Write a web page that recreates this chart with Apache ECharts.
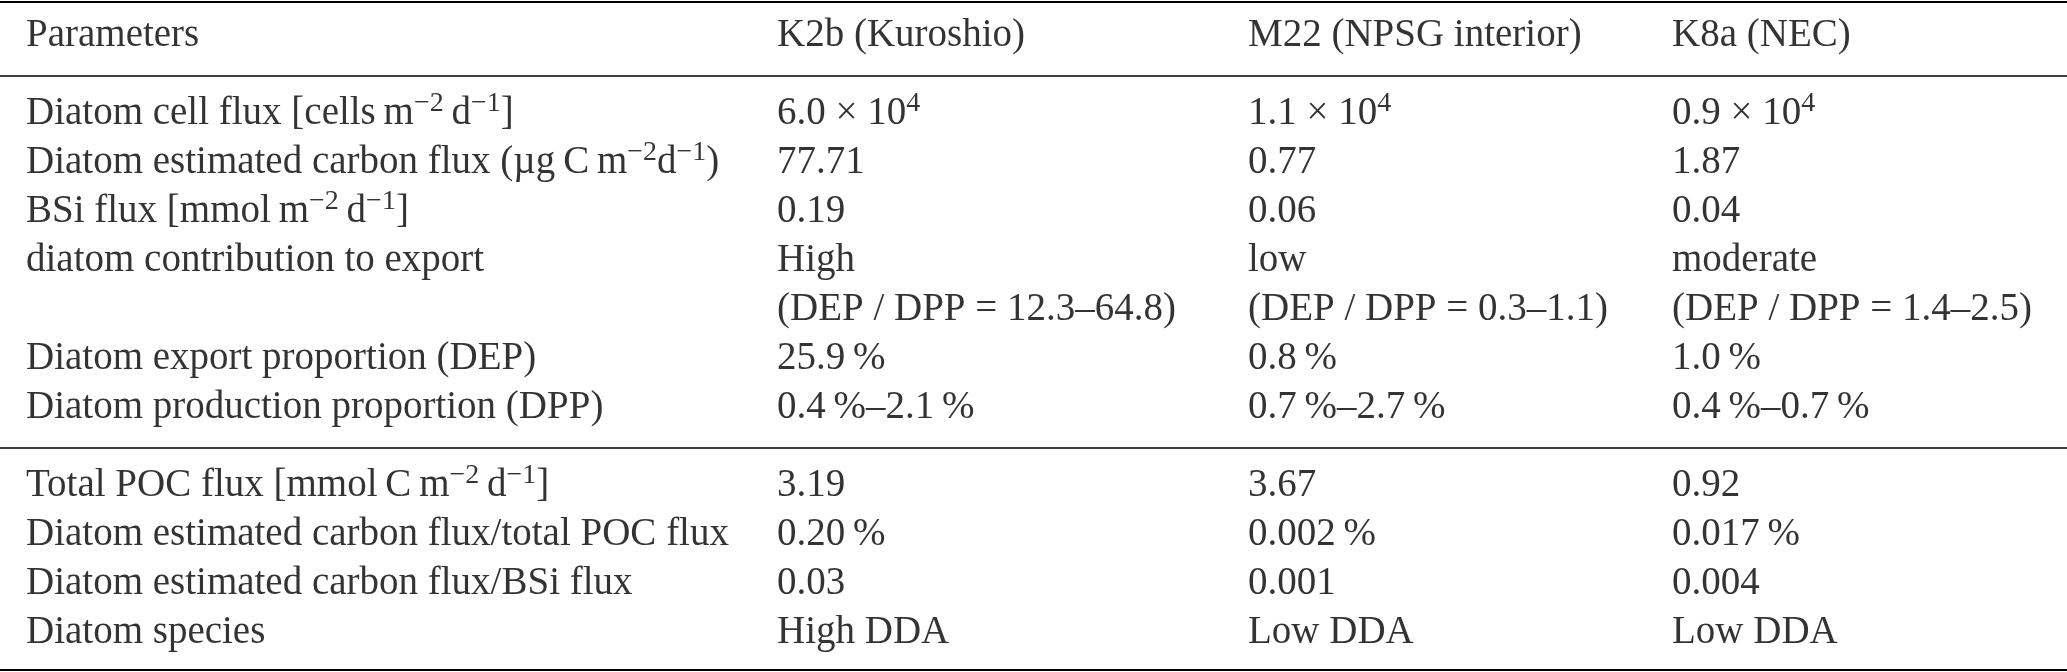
<!DOCTYPE html>
<html>
<head>
<meta charset="utf-8">
<script src="https://cdn.jsdelivr.net/npm/echarts@6/dist/echarts.min.js"></script>
<style>
  html, body { margin: 0; padding: 0; background: #fff; }
  #main { width: 2067px; height: 672px; }
</style>
</head>
<body>
<div id="main"></div>
<script>
// table contents, ^{..} marks a superscript
var headers = ['Parameters', 'K2b (Kuroshio)', 'M22 (NPSG interior)', 'K8a (NEC)'];

var paramsTop = [
  'Diatom cell flux [cells\u2009m^{\u22122}\u2009d^{\u22121}]',
  'Diatom estimated carbon flux (\u00b5g\u2009C\u2009m^{\u22122}d^{\u22121})',
  'BSi flux [mmol\u2009m^{\u22122}\u2009d^{\u22121}]',
  'diatom contribution to export',
  '',
  'Diatom export proportion (DEP)',
  'Diatom production proportion (DPP)'
];
var k2bTop = ['6.0 \u00d7 10^{4}', '77.71', '0.19', 'High', '(DEP / DPP = 12.3\u201364.8)', '25.9\u2009%', '0.4\u2009%\u20132.1\u2009%'];
var m22Top = ['1.1 \u00d7 10^{4}', '0.77', '0.06', 'low', '(DEP / DPP = 0.3\u20131.1)', '0.8\u2009%', '0.7\u2009%\u20132.7\u2009%'];
var k8aTop = ['0.9 \u00d7 10^{4}', '1.87', '0.04', 'moderate', '(DEP / DPP = 1.4\u20132.5)', '1.0\u2009%', '0.4\u2009%\u20130.7\u2009%'];

var paramsBottom = [
  'Total POC flux [mmol\u2009C\u2009m^{\u22122}\u2009d^{\u22121}]',
  'Diatom estimated carbon flux/total POC flux',
  'Diatom estimated carbon flux/BSi flux',
  'Diatom species'
];
var k2bBottom = ['3.19', '0.20\u2009%', '0.03', 'High DDA'];
var m22Bottom = ['3.67', '0.002\u2009%', '0.001', 'Low DDA'];
var k8aBottom = ['0.92', '0.017\u2009%', '0.004', 'Low DDA'];

// layout (pixels)
var W = 2067, H = 672;
var colX = [26, 777, 1248, 1672];
var headerY = 36;
var topStart = 114, bottomStart = 486, rowStep = 49;
var rules = [{y: 2, w: 2}, {y: 76, w: 1.5}, {y: 448, w: 1.5}, {y: 670, w: 2}];
var FONT = 'Liberation Serif';
var FS = 39;

// turn "a^{b}c" into echarts rich text
var toRich = function (s) {
  var out = '';
  var re = /\^\{([^}]*)\}/g, last = 0, m;
  while ((m = re.exec(s)) !== null) {
    if (m.index > last) out += '{n|' + s.slice(last, m.index) + '}';
    out += '{sup|' + m[1] + '}';
    last = re.lastIndex;
  }
  if (last < s.length) out += '{n|' + s.slice(last) + '}';
  return out;
};

var cells = [];
var addCell = function (col, y, text) {
  if (!text) return;
  cells.push({value: [colX[col], y], text: toRich(text)});
};

headers.forEach(function (h, c) { addCell(c, headerY, h); });
[paramsTop, k2bTop, m22Top, k8aTop].forEach(function (arr, c) {
  arr.forEach(function (t, i) { addCell(c, topStart + i * rowStep, t); });
});
[paramsBottom, k2bBottom, m22Bottom, k8aBottom].forEach(function (arr, c) {
  arr.forEach(function (t, i) { addCell(c, bottomStart + i * rowStep, t); });
});

var chart = echarts.init(document.getElementById('main'), null, {renderer: 'canvas'});
var option = {
  backgroundColor: '#fff',
  animation: false,
  grid: {left: 0, right: 0, top: 0, bottom: 0},
  xAxis: {type: 'value', min: 0, max: W, show: false},
  yAxis: {type: 'value', min: 0, max: H, inverse: true, show: false},
  series: [{
    type: 'scatter',
    symbolSize: 0,
    silent: true,
    data: cells,
    label: {
      show: true,
      position: 'right',
      distance: 0,
      formatter: function (p) { return p.data.text; },
      rich: {
        n: {fontFamily: FONT, fontSize: FS, color: '#000', lineHeight: FS},
        sup: {fontFamily: FONT, fontSize: 28, color: '#000', padding: [0, 0, 20, 0]}
      }
    },
    markLine: {
      silent: true,
      symbol: 'none',
      label: {show: false},
      data: rules.map(function (r) {
        return {yAxis: r.y, lineStyle: {color: '#000', width: r.w, type: 'solid'}};
      })
    }
  }]
};
chart.setOption(option);
</script>
</body>
</html>
